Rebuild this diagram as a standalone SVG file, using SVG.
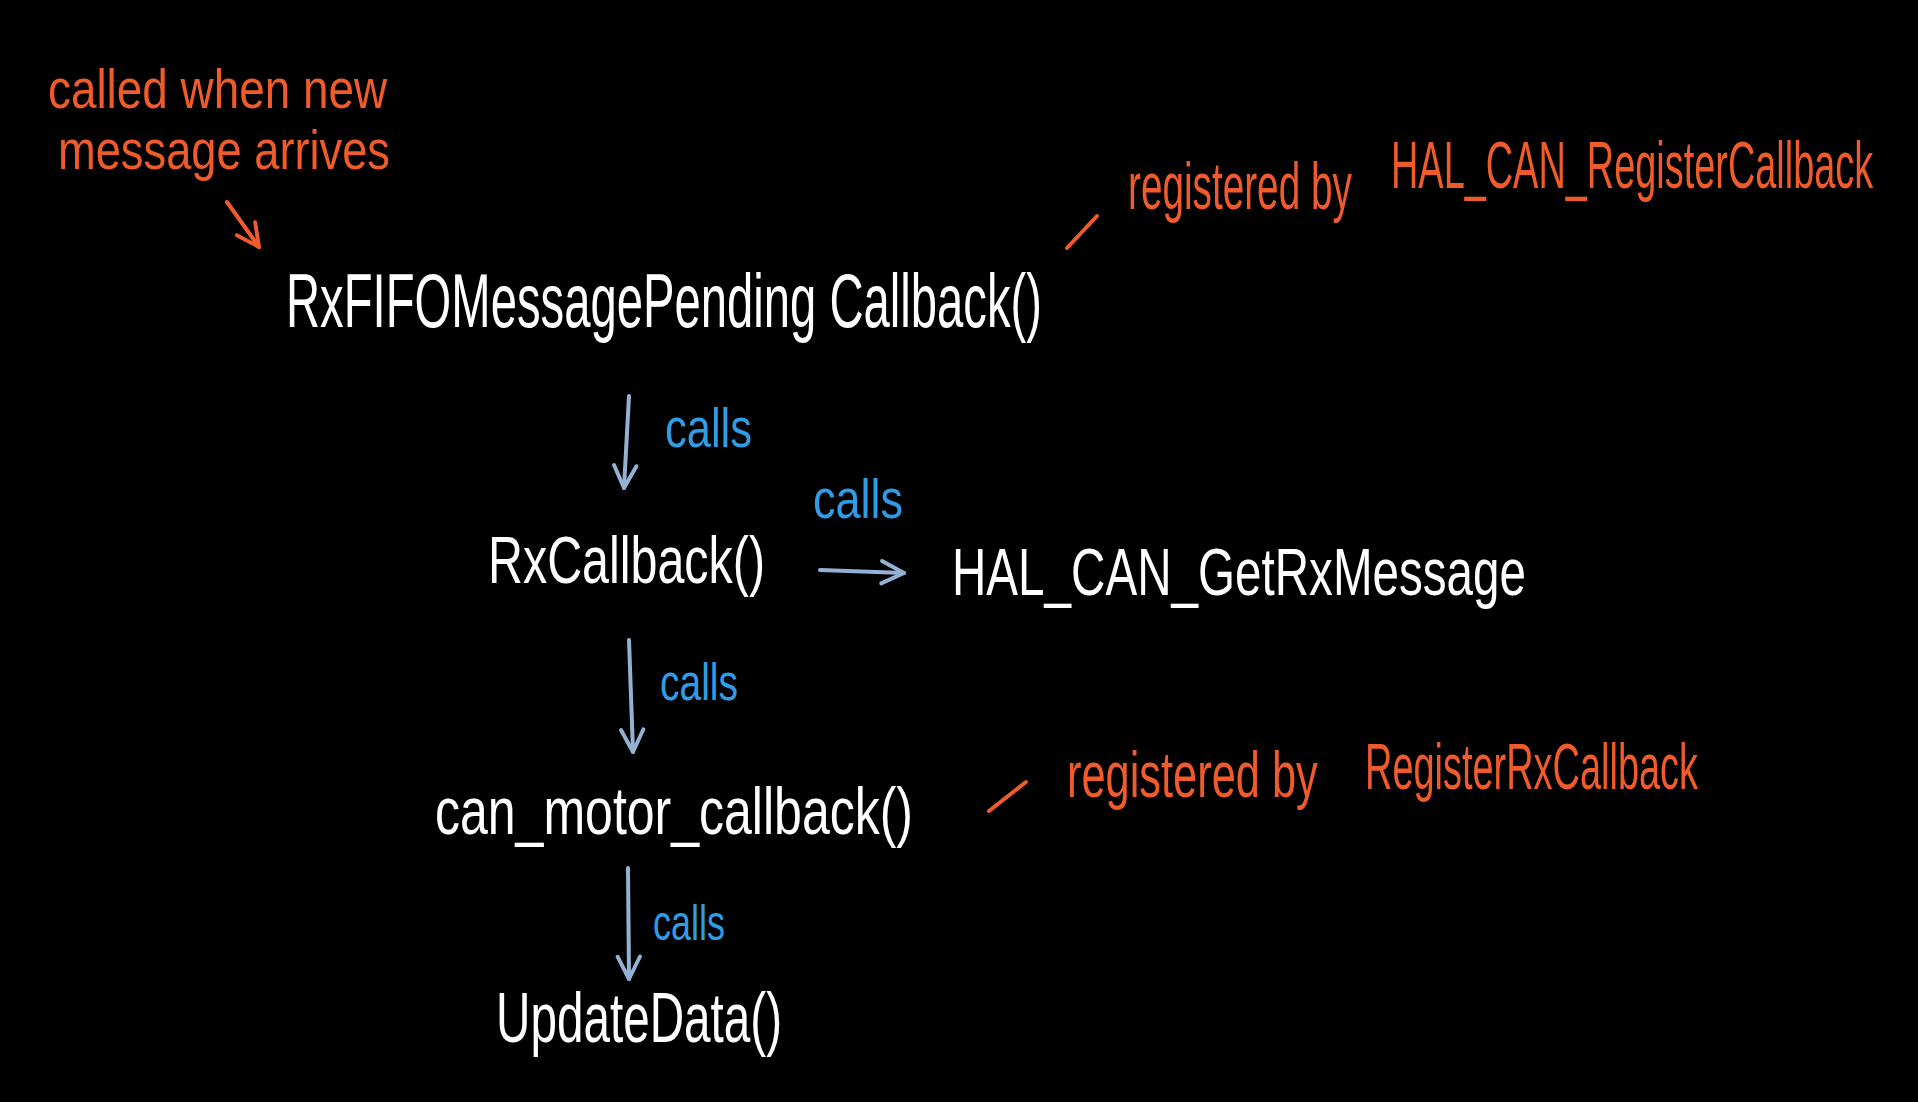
<svg xmlns="http://www.w3.org/2000/svg" width="1918" height="1102" viewBox="0 0 1918 1102">
<style>
.bg{fill:#000}
.w{fill:#ffffff;font-family:"Liberation Sans",Arial,sans-serif}
.o{fill:#EF5B2B;font-family:"Liberation Sans",Arial,sans-serif}
.b{fill:#2F9DE6;font-family:"Liberation Sans",Arial,sans-serif}
.arr{stroke:#93B2D3;stroke-width:4;fill:none;stroke-linecap:round}
.oline{stroke:#EF5B2B;stroke-width:4;fill:none;stroke-linecap:round}
</style>
<defs>
<marker id="ah" viewBox="0 0 10 10" refX="9" refY="5" markerWidth="7" markerHeight="7" orient="auto">
<path d="M1,1 L9,5 L1,9" fill="none" stroke="#93B2D3" stroke-width="1.4" stroke-linecap="round" stroke-linejoin="round"/>
</marker>
<marker id="aho" viewBox="0 0 10 10" refX="9" refY="5" markerWidth="7" markerHeight="7" orient="auto">
<path d="M1,1 L9,5 L1,9" fill="none" stroke="#EF5B2B" stroke-width="1.4" stroke-linecap="round" stroke-linejoin="round"/>
</marker>
</defs>
<rect class="bg" x="0" y="0" width="1918" height="1102"/>

<g id="note-called">
<text class="o" x="48" y="108" font-size="56" textLength="339" lengthAdjust="spacingAndGlyphs">called when new</text>
<text class="o" x="58" y="169" font-size="56" textLength="332" lengthAdjust="spacingAndGlyphs">message arrives</text>
</g>

<g id="n-rxfifo">
<text class="w" x="286" y="327" font-size="76" textLength="756" lengthAdjust="spacingAndGlyphs">RxFIFOMessagePending Callback()</text>
</g>

<g id="note-hal-register">
<line class="oline" x1="1067" y1="248" x2="1097" y2="216"/>
<text class="o" transform="translate(1128 209) scale(0.574 1)" x="0" y="0" font-size="66" textLength="390" lengthAdjust="spacingAndGlyphs">registered by</text>
<text class="o" transform="translate(1391 188) scale(0.574 1)" x="0" y="0" font-size="66" textLength="840" lengthAdjust="spacingAndGlyphs">HAL_CAN_RegisterCallback</text>
</g>

<g id="n-rxcallback">
<text class="w" x="488" y="583" font-size="66" textLength="277" lengthAdjust="spacingAndGlyphs">RxCallback()</text>
</g>

<g id="n-halget">
<text class="w" x="952" y="595" font-size="66" textLength="574" lengthAdjust="spacingAndGlyphs">HAL_CAN_GetRxMessage</text>
</g>

<g id="n-canmotor">
<text class="w" x="435" y="834" font-size="66" textLength="478" lengthAdjust="spacingAndGlyphs">can_motor_callback()</text>
</g>

<g id="note-rx-register">
<line class="oline" x1="989" y1="811" x2="1026" y2="782"/>
<text class="o" transform="translate(1067 797) scale(0.6 1)" x="0" y="0" font-size="64" textLength="418" lengthAdjust="spacingAndGlyphs">registered by</text>
<text class="o" transform="translate(1365 789) scale(0.6 1)" x="0" y="0" font-size="64" textLength="555" lengthAdjust="spacingAndGlyphs">RegisterRxCallback</text>
</g>

<g id="n-update">
<text class="w" x="496" y="1042" font-size="70" textLength="286" lengthAdjust="spacingAndGlyphs">UpdateData()</text>
</g>

<g id="connectors">
<line class="oline" x1="227" y1="202" x2="259" y2="247" marker-end="url(#aho)"/>
<line class="arr" x1="629" y1="396" x2="624" y2="488" marker-end="url(#ah)"/>
<text class="b" x="665" y="447" font-size="56" textLength="87" lengthAdjust="spacingAndGlyphs">calls</text>
<line class="arr" x1="820" y1="570" x2="904" y2="573" marker-end="url(#ah)"/>
<text class="b" x="813" y="518" font-size="56" textLength="90" lengthAdjust="spacingAndGlyphs">calls</text>
<line class="arr" x1="629" y1="640" x2="633" y2="752" marker-end="url(#ah)"/>
<text class="b" x="660" y="700" font-size="52" textLength="78" lengthAdjust="spacingAndGlyphs">calls</text>
<line class="arr" x1="628" y1="868" x2="629" y2="979" marker-end="url(#ah)"/>
<text class="b" x="653" y="940" font-size="50" textLength="72" lengthAdjust="spacingAndGlyphs">calls</text>
</g>
</svg>
